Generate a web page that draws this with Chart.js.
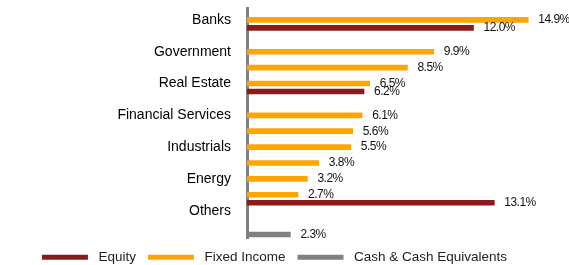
<!DOCTYPE html>
<html>
<head>
<meta charset="utf-8">
<script src="https://cdn.jsdelivr.net/npm/chart.js@4/dist/chart.umd.min.js"></script>
<style>
  html, body { margin: 0; padding: 0; background: #fff; }
  #wrap { width: 569px; height: 265px; }
</style>
</head>
<body>
<div id="wrap"><canvas id="myChart" width="569" height="265"></canvas></div>
<script>
const _ = null;

// one row per half-slot, sector names on every 4th row
const rowLabels = ['', 'Banks', '', '', '', 'Government', '', '', '', 'Real Estate', '', '', '',
  'Financial Services', '', '', '', 'Industrials', '', '', '', 'Energy', '', '', '', 'Others', '', '', ''];

const equity      = [_, _, 12.0, _, _, _, _, _, _, _, 6.2, _, _, _, _, _, _, _, _, _, _, _, _, _, 13.1, _, _, _, _];
const fixedIncome = [_, 14.9, _, _, _, 9.9, _, 8.5, _, 6.5, _, _, _, 6.1, _, 5.6, _, 5.5, _, 3.8, _, 3.2, _, 2.7, _, _, _, _, _];
const cash        = [_, _, _, _, _, _, _, _, _, _, _, _, _, _, _, _, _, _, _, _, _, _, _, _, _, _, _, _, 2.3];

const FONT = '"Liberation Sans", Arial, sans-serif';

// étiquettes de valeur à droite des barres
const valueLabels = {
    id: 'valueLabels',
    afterDatasetsDraw(chart) {
        const ctx = chart.ctx;
        ctx.save();
        ctx.letterSpacing = '-0.5px';
        ctx.font = '12px ' + FONT;
        ctx.fillStyle = '#111';
        ctx.textAlign = 'left';
        ctx.textBaseline = 'middle';
        chart.data.datasets.forEach(function (ds, i) {
            chart.getDatasetMeta(i).data.forEach(function (el, j) {
                if (ds.data[j] == null) return;
                ctx.fillText(ds.data[j].toFixed(1) + '%', el.x + 10, el.y);
            });
        });
        ctx.restore();
    }
};

function createBarChart(myChart) {
    var ctx = myChart.getContext('2d');
    return new Chart(ctx, {
        type: 'bar',
        data: {
            labels: rowLabels,
            datasets: [{
                label: 'Equity',
                data: equity,
                backgroundColor: '#8B1A1A',
                barThickness: 5
            },
            {
                label: 'Fixed Income',
                data: fixedIncome,
                backgroundColor: '#FFA500',
                barThickness: 5
            },
            {
                label: 'Cash & Cash Equivalents',
                data: cash,
                backgroundColor: '#808080',
                barThickness: 5
            }]
        },
        options: {
            indexAxis: 'y',
            responsive: false,
            animation: false,
            grouped: false,
            layout: { padding: { top: 8, right: 20, left: 0, bottom: -9 } },
            scales: {
                x: { display: false, min: 0, max: 16 },
                y: {
                    grid: { display: false, drawTicks: false },
                    border: { display: true, color: '#808080', width: 3 },
                    ticks: {
                        autoSkip: false,
                        padding: 16,
                        color: '#000',
                        font: { family: FONT, size: 14 }
                    },
                    afterFit: function (scale) {
                        scale.width = 247;
                        scale.paddingTop = 0;
                        scale.paddingBottom = 0;
                    }
                }
            },
            plugins: {
                tooltip: { enabled: false },
                legend: {
                    position: 'bottom',
                    labels: {
                        boxWidth: 46,
                        boxHeight: 5,
                        padding: 12,
                        color: '#222',
                        font: { family: FONT, size: 13.5 },
                        generateLabels: function (chart) {
                            return Chart.defaults.plugins.legend.labels.generateLabels(chart).map(function (item) {
                                item.text = ' ' + item.text;
                                return item;
                            });
                        }
                    }
                }
            }
        },
        plugins: [valueLabels]
    });
}

createBarChart(document.getElementById('myChart'));
</script>
</body>
</html>
